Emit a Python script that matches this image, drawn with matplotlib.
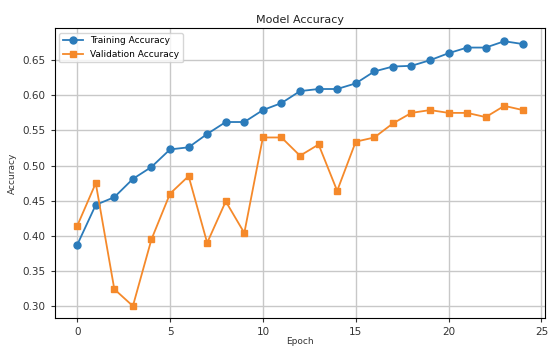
import matplotlib
matplotlib.use("Agg")
import matplotlib.pyplot as plt
import numpy as np

# values
epochs = list(range(25))
train_acc = [0.387, 0.444, 0.455, 0.481, 0.498, 0.523, 0.526, 0.545, 0.562, 0.562,
             0.579, 0.589, 0.606, 0.609, 0.609, 0.617, 0.634, 0.641, 0.642, 0.650,
             0.660, 0.668, 0.668, 0.677, 0.673]
val_acc = [0.414, 0.475, 0.324, 0.300, 0.395, 0.460, 0.485, 0.390, 0.449, 0.404,
           0.540, 0.540, 0.514, 0.530, 0.464, 0.534, 0.540, 0.560, 0.575, 0.579,
           0.575, 0.575, 0.569, 0.585, 0.579]
xticks = [0, 5, 10, 15, 20, 25]
yticks = [0.30, 0.35, 0.40, 0.45, 0.50, 0.55, 0.60, 0.65]

fig = plt.figure(figsize=(5.49, 3.47), dpi=100)
ax = fig.add_axes([0.100, 0.0836, 0.893, 0.835])

ax.plot(epochs, train_acc, marker='o', markersize=5, linewidth=1.3,
        color='#2b7bba', label='Training Accuracy')
ax.plot(epochs, val_acc, marker='s', markersize=4.5, linewidth=1.3,
        color='#f5892a', label='Validation Accuracy')

ax.set_xlim(-1.2, 25.2)
ax.set_ylim(0.283, 0.6955)
ax.set_xticks(xticks)
ax.set_yticks(yticks)
ax.set_yticklabels([f"{v:.2f}" for v in yticks])
ax.tick_params(labelsize=7.5, colors='#333333', length=3)
ax.grid(True, color='#c8c8c8', linewidth=1.0)

ax.set_title('Model Accuracy', fontsize=8, color='#222222', pad=4)
ax.set_xlabel('Epoch', fontsize=6.5, color='#333333', labelpad=0)
ax.set_ylabel('Accuracy', fontsize=6.5, color='#333333', labelpad=4)
ax.legend(loc='upper left', fontsize=6.5, framealpha=0.8, borderpad=0.4,
          handlelength=2.2)

fig.savefig('out.png', dpi=100)
